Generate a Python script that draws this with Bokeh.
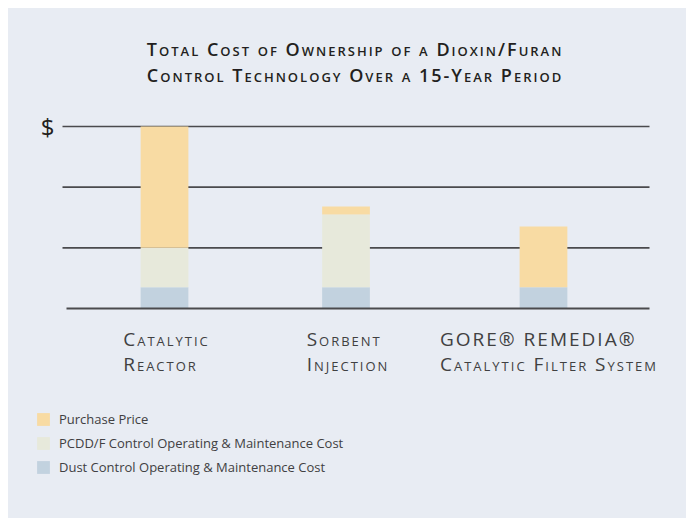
from bokeh.plotting import figure
from bokeh.models import (FactorRange, Range1d, ColumnDataSource, LabelSet,
                          Legend, LegendItem)
from bokeh.layouts import column
from bokeh.core.properties import value, field
from bokeh.embed import file_html
from bokeh.resources import INLINE

# ---------------- data ----------------
categories = ["Catalytic Reactor", "Sorbent Injection", "GORE® REMEDIA® Catalytic Filter System"]
tick_labels = ["Catalytic\nReactor", "Sorbent\nInjection", "GORE® REMEDIA®\nCatalytic Filter System"]
series_names = ["Purchase Price",
                "PCDD/F Control Operating & Maintenance Cost",
                "Dust Control Operating & Maintenance Cost"]
purchase = [2.0, 0.13, 1.0]
pcdd = [0.65, 1.2, 0.0]
dust = [0.35, 0.35, 0.35]
grid_levels = [1, 2, 3]
y_tick_label = "$"
title_text = "Total Cost of Ownership of a Dioxin/Furan\nControl Technology Over a 15-Year Period"

# ---------------- style ----------------
BG = "#E8ECF3"
C_PURCH = "#F8DBA3"
C_PCDD = "#E7E9DB"
C_DUST = "#C2D2DF"
LINE = "#4A4A4D"
FONT = "Open Sans"
LS = 2  # letter spacing (px) of the small-caps texts

W = 678
H1 = 387
H2 = 510 - H1

# layout helpers (page pixel -> data units)
PX = 182 / 3.0          # pixels per value unit
BASE = 308.0            # page y of value 0
S = 181.5               # pixels per factor unit
FRAME_L = 36.0          # page x of the frame's left edge
FRAME_R = 671.0         # page x of the frame's right edge
GROUP_PAD = 0.088
N_UNITS = len(categories) + GROUP_PAD
H_PAD = ((FRAME_R - FRAME_L) / S - N_UNITS) / 2.0

def y_at(py):
    return (BASE - py) / PX

def x_at(px):
    return -H_PAD + (px - FRAME_L) / S

def ls_shift(txt):
    lines = txt.split("\n")
    n = sum(len(l) for l in lines) / len(lines)
    return -(n - 1) * LS / 2.0

spacing_groups = ["A", "A", "B"]
factors = list(zip(spacing_groups, categories))
xr = FactorRange(factors=factors, factor_padding=0.0, group_padding=GROUP_PAD,
                 range_padding=H_PAD, range_padding_units="absolute")
yr = Range1d(start=y_at(8 + H1), end=y_at(8))

p = figure(width=W, height=H1, x_range=xr, y_range=yr, title=None,
           x_axis_location=None, y_axis_location=None,
           toolbar_location=None, output_backend="svg",
           min_border_left=int(FRAME_L - 8), min_border_right=int(8 + W - FRAME_R),
           min_border_top=0, min_border_bottom=0,
           background_fill_color=BG, border_fill_color=BG, outline_line_color=None)
p.styles = {"font-variant": "small-caps", "letter-spacing": f"{LS}px"}
if "frame_align" in p.properties():
    p.frame_align = False
p.grid.visible = False

# value grid lines (behind the bars)
p.segment(x0=[x_at(62)] * len(grid_levels), x1=[x_at(649)] * len(grid_levels),
          y0=grid_levels, y1=grid_levels, line_color=LINE, line_width=1.6,
          level="underlay")

src = ColumnDataSource(dict(x=factors, purchase=purchase, pcdd=pcdd, dust=dust))
p.vbar_stack(["dust", "pcdd", "purchase"], x="x", width=0.263, source=src,
             fill_color=[C_DUST, C_PCDD, C_PURCH], line_color=None)

# baseline drawn over the bars
p.segment(x0=[x_at(66)], x1=[x_at(649)], y0=[0], y1=[0], line_color=LINE, line_width=1.8)

# "$" tick label
ytl_src = ColumnDataSource(dict(x=[x_at(54)], y=[grid_levels[-1]], text=[y_tick_label]))
p.add_layout(LabelSet(source=ytl_src, x="x", y="y", text="text",
                      text_align="right", text_baseline="middle",
                      text_font=value(FONT), text_font_size="24px", text_color="#231F20"))

# category labels
lab_src = ColumnDataSource(dict(x=factors, y=[y_at(325.3)] * 3, text=tick_labels,
                                dx=[ls_shift(t) for t in tick_labels],
                                fs=["small-caps"] * 3))
p.add_layout(LabelSet(source=lab_src, x="x", y="y", text="text", x_offset="dx",
                      text_align="center", text_baseline="top",
                      text_font=value(FONT), text_font_size="19px",
                      text_font_style=field("fs"), text_color="#404041",
                      text_line_height=0.965))

# title
title_src = ColumnDataSource(dict(x=[x_at(354)], y=[y_at(36.0)], text=[title_text],
                                  dx=[ls_shift(title_text)], fs=["small-caps 600"]))
p.add_layout(LabelSet(source=title_src, x="x", y="y", text="text",
                      x_offset="dx", text_align="center", text_baseline="top",
                      text_font=value(FONT), text_font_size="18px",
                      text_font_style=field("fs"), text_color="#231F20",
                      text_line_height=1.1))

# ---------------- legend figure ----------------
p2 = figure(width=W, height=H2, x_range=Range1d(0, 1), y_range=Range1d(0, 1), title=None,
            x_axis_location=None, y_axis_location=None,
            toolbar_location=None, output_backend="svg",
            min_border_left=27, min_border_top=15, min_border_right=0, min_border_bottom=0,
            background_fill_color=BG, border_fill_color=BG, outline_line_color=None)
if "frame_align" in p2.properties():
    p2.frame_align = False
p2.grid.visible = False
items = []
for name, col in zip(series_names, [C_PURCH, C_PCDD, C_DUST]):
    r = p2.vbar(x=[0.5], top=[0], bottom=[0], width=0.1, fill_color=col, line_color=None)
    items.append(LegendItem(label=name, renderers=[r]))
leg = Legend(items=items, location="top_left", orientation="vertical",
             padding=0, margin=0, spacing=6, glyph_width=16, glyph_height=16,
             label_height=16, label_standoff=8, label_text_font=FONT,
             label_text_font_size="13px", label_text_color="#414042",
             background_fill_alpha=0, border_line_color=None)
p2.add_layout(leg)

layout = column(p, p2, spacing=0, margin=(8, 0, 0, 8), styles={"background-color": BG})
open("out.html", "w").write(file_html(layout, INLINE))
